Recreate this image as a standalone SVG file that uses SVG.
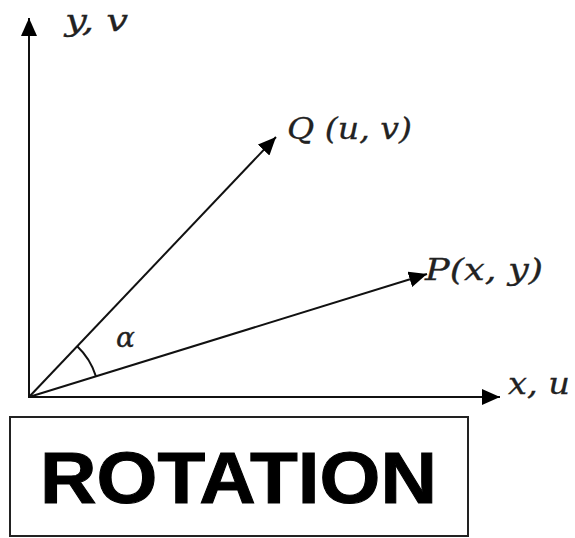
<svg xmlns="http://www.w3.org/2000/svg" width="575" height="538" viewBox="0 0 575 538">
<style>
.ax{stroke:#111;stroke-width:2;fill:none}
.lbl{font-family:"DejaVu Serif",serif;font-style:italic;font-size:30px;fill:#222;stroke:#222;stroke-width:0.3}
.title{font-family:"Liberation Sans",Arial,sans-serif;font-weight:bold;font-size:72px;fill:#000;stroke:#000;stroke-width:1}
</style>
<defs>
<marker id="ah" markerUnits="userSpaceOnUse" markerWidth="20" markerHeight="16" refX="18" refY="8" orient="auto">
<path d="M0,0 L18,8 L0,16 Z" fill="#000"/>
</marker>
</defs>
<rect width="575" height="538" fill="#fff"/>
<g id="connectors">
<line class="ax" x1="29" y1="398" x2="29" y2="18" marker-end="url(#ah)"/>
<line class="ax" x1="28" y1="397" x2="500" y2="397" marker-end="url(#ah)"/>
<line class="ax" x1="29" y1="397" x2="276" y2="137" marker-end="url(#ah)"/>
<line class="ax" x1="29" y1="397" x2="427" y2="274" marker-end="url(#ah)"/>
<path class="ax" d="M77.2,346.2 A70,70 0 0 1 95.9,376.2"/>
</g>
<g id="label-yv"><text class="lbl" x="65" y="31" textLength="63" lengthAdjust="spacingAndGlyphs">y, v</text></g>
<g id="label-Q"><text class="lbl" x="287" y="139" textLength="125" lengthAdjust="spacingAndGlyphs">Q (u, v)</text></g>
<g id="label-P"><text class="lbl" x="425" y="280" textLength="118" lengthAdjust="spacingAndGlyphs">P(x, y)</text></g>
<g id="label-xu"><text class="lbl" x="508" y="394" textLength="62" lengthAdjust="spacingAndGlyphs">x, u</text></g>
<g id="label-alpha"><text class="lbl" x="116" y="347" style="font-size:28px">α</text></g>
<g id="rotation-box">
<rect x="10" y="417" width="458" height="119" fill="none" stroke="#222" stroke-width="2"/>
<text class="title" x="40" y="503" textLength="397" lengthAdjust="spacingAndGlyphs">ROTATION</text>
</g>
</svg>
